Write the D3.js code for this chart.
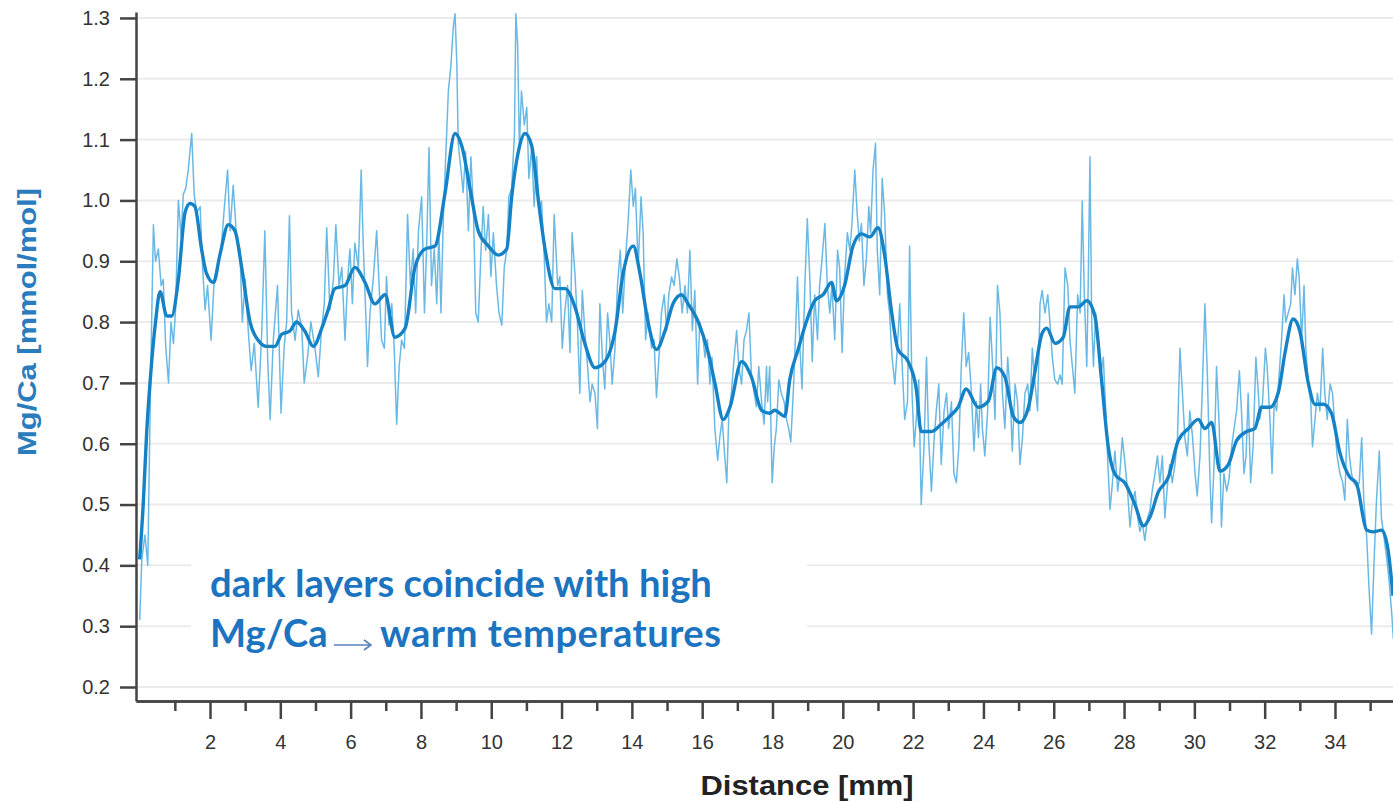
<!DOCTYPE html>
<html>
<head>
<meta charset="utf-8">
<script src="https://cdn.jsdelivr.net/npm/d3@7"></script>
<style>
  body { margin: 0; background: #fff; }
  svg { display: block; }
</style>
</head>
<body>
<svg id="chart" width="1393" height="801"></svg>
<script>
// raw laser-ablation profile (thin line)
const rawDist = [
  0.00,0.06,0.15,0.23,0.30,0.39,0.45,0.53,0.61,0.67,0.74,0.82,0.89,0.96,1.02,1.10,1.18,1.24,1.31,1.38,
  1.48,1.55,1.62,1.72,1.79,1.86,1.93,2.03,2.12,2.22,2.31,2.41,2.50,2.57,2.66,2.76,2.85,2.92,3.00,3.09,
  3.17,3.26,3.37,3.47,3.56,3.64,3.71,3.80,3.92,4.02,4.11,4.18,4.26,4.32,4.42,4.51,4.61,4.68,4.78,4.87,
  4.99,5.08,5.17,5.25,5.32,5.41,5.51,5.58,5.67,5.75,5.84,5.92,5.98,6.05,6.12,6.22,6.30,6.36,6.43,6.48,
  6.55,6.65,6.74,6.81,6.88,6.96,7.02,7.09,7.17,7.24,7.31,7.38,7.45,7.53,7.62,7.70,7.78,7.85,7.93,8.02,
  8.10,8.16,8.23,8.30,8.38,8.45,8.51,8.57,8.64,8.70,8.78,8.85,8.92,8.97,9.02,9.06,9.14,9.20,9.27,9.35,
  9.42,9.49,9.56,9.63,9.71,9.77,9.84,9.92,9.99,10.06,10.15,10.22,10.30,10.37,10.44,10.50,10.58,10.66,10.70,10.75,
  10.80,10.86,10.94,11.01,11.07,11.15,11.22,11.29,11.36,11.43,11.51,11.57,11.64,11.72,11.79,11.89,11.95,12.02,12.09,12.17,
  12.24,12.30,12.38,12.45,12.52,12.59,12.66,12.74,12.81,12.87,12.95,13.02,13.09,13.16,13.23,13.31,13.37,13.44,13.52,13.59,
  13.67,13.74,13.82,13.89,13.97,14.04,14.10,14.18,14.26,14.32,14.39,14.46,14.56,14.63,14.70,14.77,14.84,14.92,14.99,15.05,
  15.13,15.20,15.28,15.35,15.43,15.51,15.58,15.65,15.72,15.79,15.87,15.93,16.00,16.08,16.15,16.22,16.28,16.36,16.44,16.50,
  16.57,16.64,16.70,16.76,16.83,16.91,16.98,17.04,17.12,17.19,17.26,17.33,17.40,17.48,17.54,17.61,17.69,17.76,17.83,17.86,
  17.92,17.99,18.05,18.11,18.18,18.25,18.33,18.40,18.46,18.52,18.59,18.65,18.71,18.78,18.84,18.92,18.99,19.06,19.13,19.20,
  19.28,19.34,19.41,19.49,19.56,19.63,19.69,19.77,19.85,19.91,19.98,20.05,20.13,20.20,20.26,20.34,20.41,20.47,20.53,20.60,
  20.67,20.74,20.79,20.86,20.93,20.98,21.05,21.12,21.19,21.27,21.33,21.40,21.48,21.55,21.62,21.69,21.76,21.84,21.90,21.97,
  22.03,22.09,22.16,22.23,22.31,22.38,22.44,22.52,22.60,22.66,22.73,22.80,22.88,22.95,23.01,23.09,23.16,23.23,23.30,23.37,
  23.44,23.51,23.58,23.66,23.73,23.80,23.86,23.92,23.97,24.04,24.12,24.19,24.25,24.33,24.40,24.47,24.54,24.61,24.69,24.76,
  24.82,24.90,24.97,25.04,25.11,25.18,25.26,25.32,25.39,25.47,25.54,25.61,25.67,25.75,25.83,25.89,25.96,26.03,26.11,26.18,
  26.24,26.32,26.40,26.46,26.53,26.60,26.68,26.75,26.81,26.87,26.94,26.98,27.03,27.08,27.13,27.19,27.27,27.34,27.41,27.48,
  27.53,27.60,27.67,27.74,27.82,27.88,27.95,28.03,28.10,28.17,28.23,28.31,28.39,28.45,28.52,28.59,28.67,28.74,28.80,28.88,
  28.95,29.02,29.09,29.16,29.24,29.30,29.37,29.45,29.52,29.59,29.66,29.73,29.80,29.87,29.95,30.02,30.08,30.16,30.23,30.30,
  30.37,30.44,30.49,30.56,30.63,30.71,30.77,30.84,30.92,30.99,31.06,31.13,31.20,31.28,31.34,31.41,31.47,31.53,31.60,31.67,
  31.75,31.82,31.86,31.94,32.02,32.07,32.15,32.21,32.27,32.34,32.41,32.48,32.55,32.60,32.67,32.74,32.79,32.86,32.93,32.98,
  33.05,33.12,33.17,33.24,33.31,33.36,33.43,33.50,33.57,33.65,33.71,33.78,33.86,33.93,34.00,34.06,34.14,34.22,34.28,34.35,
  34.41,34.47,34.54,34.61,34.69,34.76,34.82,34.90,34.97,35.04,35.11,35.18,35.26,35.32,35.39,35.47,35.54,35.62,35.66
];
const rawMgCa = [
  0.31,0.41,0.45,0.40,0.67,0.96,0.90,0.92,0.86,0.87,0.76,0.70,0.80,0.765,0.82,1.00,0.94,1.01,1.02,1.05,
  1.11,1.01,0.98,0.99,0.89,0.82,0.86,0.77,0.87,0.895,0.915,0.99,1.05,0.95,1.025,0.935,0.92,0.80,0.87,0.785,
  0.72,0.765,0.66,0.78,0.95,0.74,0.64,0.77,0.86,0.65,0.76,0.80,0.975,0.815,0.77,0.82,0.79,0.70,0.745,0.80,
  0.755,0.71,0.785,0.83,0.955,0.82,0.87,0.96,0.86,0.89,0.77,0.875,0.92,0.83,0.93,0.89,1.05,0.925,0.815,0.727,
  0.815,0.875,0.95,0.86,0.77,0.757,0.875,0.795,0.83,0.757,0.632,0.727,0.77,0.757,0.977,0.86,0.92,0.815,0.95,1.006,
  0.815,0.92,1.087,0.86,0.92,0.83,0.95,0.815,0.977,1.065,1.18,1.22,1.285,1.307,1.227,1.094,1.05,1.013,1.08,0.95,
  1.072,0.99,0.815,0.80,0.918,0.99,0.918,0.977,0.875,0.947,0.86,0.815,0.795,0.89,0.918,1.006,1.02,1.109,1.307,1.256,
  1.087,1.18,1.124,1.153,1.036,1.087,0.99,1.072,0.984,0.999,0.904,0.80,0.83,0.80,0.977,0.86,0.875,0.757,0.815,0.86,
  0.75,0.947,0.88,0.80,0.683,0.852,0.786,0.727,0.669,0.698,0.683,0.625,0.83,0.742,0.69,0.815,0.771,0.698,0.757,0.86,
  0.918,0.815,0.904,0.962,1.05,0.99,1.02,0.889,1.006,0.947,0.771,0.815,0.757,0.771,0.676,0.742,0.815,0.845,0.786,0.845,
  0.874,0.86,0.904,0.874,0.815,0.86,0.815,0.918,0.786,0.852,0.698,0.80,0.786,0.742,0.771,0.698,0.742,0.625,0.573,0.61,
  0.64,0.58,0.536,0.654,0.683,0.742,0.786,0.727,0.698,0.771,0.786,0.815,0.713,0.683,0.661,0.727,0.669,0.632,0.727,0.669,
  0.727,0.536,0.595,0.625,0.705,0.683,0.669,0.64,0.625,0.603,0.683,0.771,0.874,0.757,0.69,0.86,0.97,0.874,0.735,0.845,
  0.771,0.86,0.904,0.962,0.86,0.815,0.86,0.771,0.918,0.889,0.75,0.874,0.947,0.918,0.962,1.05,0.977,0.933,0.962,0.86,
  0.904,0.99,0.947,1.05,1.094,0.918,0.845,1.036,0.977,0.845,0.815,0.742,0.698,0.757,0.83,0.727,0.64,0.669,0.925,0.683,
  0.595,0.64,0.705,0.50,0.595,0.742,0.61,0.522,0.61,0.654,0.698,0.566,0.654,0.683,0.625,0.669,0.551,0.536,0.595,0.727,
  0.815,0.727,0.75,0.683,0.588,0.669,0.61,0.698,0.625,0.58,0.654,0.808,0.742,0.64,0.86,0.815,0.683,0.625,0.742,0.683,
  0.588,0.698,0.669,0.566,0.61,0.683,0.698,0.654,0.757,0.698,0.654,0.83,0.852,0.815,0.845,0.80,0.742,0.705,0.698,0.713,
  0.698,0.889,0.86,0.771,0.727,0.683,0.845,0.815,0.999,0.845,0.727,0.86,1.072,0.80,0.727,0.815,0.771,0.713,0.742,0.654,
  0.58,0.492,0.536,0.588,0.522,0.551,0.61,0.566,0.522,0.463,0.50,0.522,0.478,0.456,0.47,0.441,0.478,0.492,0.522,0.551,
  0.58,0.536,0.58,0.478,0.536,0.566,0.536,0.566,0.61,0.757,0.683,0.61,0.58,0.654,0.61,0.551,0.514,0.58,0.698,0.83,
  0.713,0.551,0.47,0.566,0.727,0.625,0.463,0.551,0.522,0.544,0.595,0.625,0.654,0.72,0.654,0.551,0.58,0.683,0.536,0.595,
  0.742,0.683,0.64,0.669,0.757,0.727,0.64,0.551,0.669,0.654,0.713,0.771,0.845,0.80,0.815,0.83,0.889,0.845,0.904,0.874,
  0.771,0.86,0.757,0.698,0.669,0.595,0.64,0.683,0.654,0.757,0.683,0.64,0.698,0.683,0.625,0.58,0.551,0.536,0.507,0.64,
  0.58,0.551,0.536,0.529,0.536,0.61,0.507,0.448,0.36,0.287,0.404,0.507,0.588,0.478,0.448,0.412,0.375,0.316,0.279
];

// running mean (thick line)
const smoothDist = [
  0.00,0.10,0.20,0.30,0.45,0.58,0.77,0.91,1.10,1.29,1.43,1.57,1.76,1.90,2.10,2.28,2.52,2.71,2.90,3.14,
  3.37,3.61,3.85,4.04,4.27,4.46,4.70,4.94,5.18,5.36,5.55,5.84,6.12,6.41,6.69,6.98,7.26,7.55,7.83,8.11,
  8.40,8.68,8.97,9.16,9.44,9.63,9.92,10.20,10.44,10.58,10.77,10.96,11.15,11.34,11.53,11.81,12.10,12.38,12.66,12.95,
  13.23,13.52,13.75,14.04,14.23,14.46,14.70,14.94,15.17,15.41,15.60,15.89,16.17,16.36,16.60,16.79,17.12,17.40,17.69,17.92,
  18.06,18.35,18.49,18.73,18.96,19.20,19.44,19.68,19.82,20.05,20.29,20.53,20.77,21.00,21.19,21.38,21.57,21.86,22.09,22.23,
  22.52,22.76,23.04,23.28,23.51,23.85,24.14,24.38,24.61,24.85,25.04,25.28,25.47,25.66,25.80,26.04,26.27,26.46,26.70,26.94,
  27.17,27.36,27.55,27.74,28.03,28.31,28.55,28.74,28.97,29.26,29.54,29.83,30.11,30.30,30.49,30.73,30.96,31.20,31.49,31.72,
  31.91,32.15,32.39,32.58,32.81,33.00,33.24,33.43,33.67,33.90,34.14,34.42,34.61,34.90,35.09,35.33,35.51,35.65
];
const smoothMgCa = [
  0.41,0.50,0.62,0.705,0.80,0.85,0.81,0.81,0.87,0.98,0.995,0.99,0.92,0.88,0.865,0.91,0.96,0.95,0.89,0.80,
  0.77,0.76,0.76,0.78,0.785,0.80,0.785,0.76,0.79,0.82,0.855,0.86,0.89,0.865,0.83,0.845,0.775,0.79,0.89,0.92,
  0.925,1.01,1.11,1.09,1.005,0.95,0.925,0.91,0.92,1.005,1.08,1.11,1.09,1.00,0.92,0.855,0.855,0.825,0.765,0.725,
  0.735,0.785,0.88,0.925,0.88,0.80,0.755,0.785,0.83,0.845,0.83,0.80,0.75,0.70,0.64,0.66,0.735,0.71,0.655,0.65,
  0.655,0.645,0.705,0.755,0.80,0.835,0.845,0.865,0.835,0.86,0.925,0.945,0.94,0.955,0.91,0.82,0.755,0.735,0.69,0.62,
  0.62,0.63,0.645,0.66,0.69,0.66,0.67,0.725,0.71,0.645,0.635,0.66,0.72,0.78,0.79,0.765,0.775,0.825,0.825,0.835,
  0.81,0.705,0.595,0.55,0.535,0.50,0.465,0.48,0.52,0.545,0.605,0.625,0.64,0.625,0.635,0.555,0.565,0.605,0.62,0.625,
  0.66,0.66,0.685,0.75,0.805,0.785,0.70,0.665,0.665,0.65,0.585,0.545,0.535,0.458,0.455,0.458,0.425,0.35
];

const yTicks = [0.2, 0.3, 0.4, 0.5, 0.6, 0.7, 0.8, 0.9, 1.0, 1.1, 1.2, 1.3];
const xMajorTicks = [2, 4, 6, 8, 10, 12, 14, 16, 18, 20, 22, 24, 26, 28, 30, 32, 34];
const xMinorTicks = [1, 3, 5, 7, 9, 11, 13, 15, 17, 19, 21, 23, 25, 27, 29, 31, 33, 35];

const xTitle = "Distance [mm]";
const yTitle = "Mg/Ca [mmol/mol]";
const noteLine1 = "dark layers coincide with high";
const noteLine2a = "Mg/Ca";
const noteLine2b = "warm temperatures";

const svg = d3.select("#chart");
const plotLeft = 136, plotRight = 1393, plotTop = 12, plotBottom = 701;

const x = d3.scaleLinear().domain([-0.105, 35.65]).range([plotLeft, plotRight]);
const y = d3.scaleLinear().domain([0.177, 1.3098]).range([plotBottom, plotTop]);

svg.append("defs").append("clipPath").attr("id", "plotclip")
  .append("rect").attr("x", plotLeft).attr("y", plotTop)
  .attr("width", plotRight - plotLeft).attr("height", plotBottom - plotTop);

// grid
svg.append("g").selectAll("line").data(yTicks).enter().append("line")
  .attr("x1", plotLeft).attr("x2", plotRight)
  .attr("y1", d => y(d)).attr("y2", d => y(d))
  .attr("stroke", "#ebebeb").attr("stroke-width", 2);

// white box behind the note
svg.append("rect").attr("x", 191).attr("y", 553).attr("width", 616).attr("height", 100).attr("fill", "#fff");

const plot = svg.append("g").attr("clip-path", "url(#plotclip)");

const rawData = rawDist.map((d, i) => [d, rawMgCa[i]]);
const smoothData = smoothDist.map((d, i) => [d, smoothMgCa[i]]);

plot.append("path").datum(rawData)
  .attr("fill", "none").attr("stroke", "#5ab1e2").attr("stroke-width", 1.5).attr("stroke-opacity", 0.9)
  .attr("stroke-linejoin", "round")
  .attr("d", d3.line().x(d => x(d[0])).y(d => y(d[1])));

plot.append("path").datum(smoothData)
  .attr("fill", "none").attr("stroke", "#1682c6").attr("stroke-width", 3.4)
  .attr("stroke-linejoin", "round")
  .attr("d", d3.line().curve(d3.curveMonotoneX).x(d => x(d[0])).y(d => y(d[1])));

// axes
const yAxis = svg.append("g").attr("transform", `translate(${plotLeft},0)`)
  .call(d3.axisLeft(y).tickValues(yTicks).tickFormat(d3.format(".1f")).tickSize(16).tickSizeOuter(0).tickPadding(10));

const xMinor = svg.append("g").attr("transform", `translate(0,${plotBottom})`)
  .call(d3.axisBottom(x).tickValues(xMinorTicks).tickFormat("").tickSize(10).tickSizeOuter(0));
const xAxis = svg.append("g").attr("transform", `translate(0,${plotBottom})`)
  .call(d3.axisBottom(x).tickValues(xMajorTicks).tickSize(18).tickSizeOuter(0).tickPadding(16));

[yAxis, xAxis, xMinor].forEach(g => {
  g.selectAll("path.domain").attr("stroke", "#444").attr("stroke-width", 2.5);
  g.selectAll(".tick line").attr("stroke", "#444").attr("stroke-width", 2.5);
  g.selectAll(".tick text").attr("fill", "#333")
    .style("font-family", "'Liberation Sans', Arial, sans-serif").style("font-size", "20px");
});

// axis titles
svg.append("text").attr("x", 807).attr("y", 795).attr("text-anchor", "middle")
  .style("font-family", "'Liberation Sans', Arial, sans-serif").style("font-weight", "bold")
  .style("font-size", "27px").attr("fill", "#222")
  .attr("textLength", 213).attr("lengthAdjust", "spacingAndGlyphs")
  .text(xTitle);

svg.append("text").attr("transform", "translate(36,322) rotate(-90)").attr("text-anchor", "middle")
  .style("font-family", "'Liberation Sans', Arial, sans-serif").style("font-weight", "bold")
  .style("font-size", "26px").attr("fill", "#2a7cbc")
  .attr("textLength", 268).attr("lengthAdjust", "spacingAndGlyphs")
  .text(yTitle);

// note
const noteFont = "Lato, 'Open Sans', sans-serif";
const n1 = svg.append("text").attr("x", 210).attr("y", 597)
  .style("font-family", noteFont).style("font-weight", "bold").style("font-size", "32px")
  .attr("fill", "#1c74c0").text(noteLine1);
const w1 = n1.node().getComputedTextLength();
const fs = 32 * 502 / w1;
n1.style("font-size", fs + "px");

svg.append("text").attr("x", 210).attr("y", 647)
  .style("font-family", noteFont).style("font-weight", "bold").style("font-size", fs + "px")
  .attr("fill", "#1c74c0").text(noteLine2a);
svg.append("text").attr("x", 380).attr("y", 647)
  .style("font-family", noteFont).style("font-weight", "bold").style("font-size", fs + "px")
  .attr("fill", "#1c74c0").attr("textLength", 341).attr("lengthAdjust", "spacing")
  .text(noteLine2b);

// small arrow between the two parts
const ay = 645;
svg.append("path")
  .attr("d", `M334,${ay}L371,${ay}M364,${ay - 5}L371,${ay}L364,${ay + 5}`)
  .attr("fill", "none").attr("stroke", "#5b82bd").attr("stroke-width", 1.6);
</script>
</body>
</html>
